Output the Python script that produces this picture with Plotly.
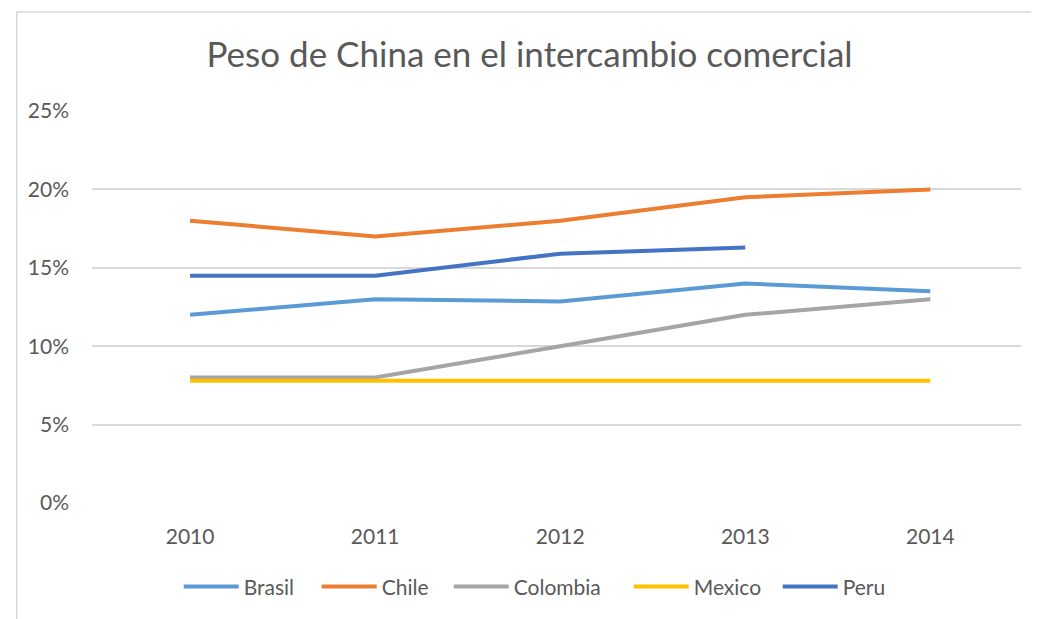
import plotly.graph_objects as go

years = ["2010", "2011", "2012", "2013", "2014"]
brasil = [12.0, 13.0, 12.85, 14.0, 13.5]
chile = [18.0, 17.0, 18.0, 19.5, 20.0]
colombia = [8.0, 8.0, 10.0, 12.0, 13.0]
mexico = [7.8, 7.8, 7.8, 7.8, 7.8]
peru = [14.5, 14.5, 15.9, 16.3, None]

series = [
    ("Brasil", brasil, "#5B9BD5"),
    ("Chile", chile, "#ED7D31"),
    ("Colombia", colombia, "#A5A5A5"),
    ("Mexico", mexico, "#FFC000"),
    ("Peru", peru, "#4472C4"),
]
# legend entry widths so the spacing matches the original
legend_w = {"Brasil": 68, "Chile": 62, "Colombia": 110, "Mexico": 79, "Peru": 55}

FONT = "Lato, sans-serif"
GREY = "#595959"

fig = go.Figure()
for name, vals, color in series:
    fig.add_trace(go.Scatter(
        x=years, y=[v / 100 if v is not None else None for v in vals],
        name=name, mode="lines",
        line=dict(color=color, width=4),
        legendwidth=legend_w[name],
    ))

fig.update_layout(
    width=1039, height=619,
    margin=dict(l=84, r=26, t=103, b=124),
    paper_bgcolor="white", plot_bgcolor="white",
    font=dict(family=FONT, color=GREY, size=21),
    title=dict(text="Peso de China en el intercambio comercial",
               x=0.502, xanchor="center", y=0.924, yanchor="middle",
               font=dict(size=35, color=GREY, family=FONT)),
    xaxis=dict(type="category", range=[-0.53, 4.49], showgrid=False,
               showline=False, ticks="", ticklabelstandoff=19,
               tickfont=dict(size=21)),
    yaxis=dict(range=[0, 0.25], dtick=0.05, tickformat=".0%",
               gridcolor="#D9D9D9", gridwidth=1.5, zeroline=False,
               ticks="", ticklabelstandoff=22, tickfont=dict(size=21)),
    legend=dict(orientation="h", x=0.483, xanchor="center",
                y=-0.214, yanchor="middle", font=dict(size=21),
                itemwidth=55, tracegroupgap=0),
    showlegend=True,
)

# chart frame (left and top edges visible in the reference)
fig.add_shape(type="line", xref="paper", yref="paper",
              x0=-0.081, x1=-0.081, y0=-0.35, y1=1.2526,
              line=dict(color="#D9D9D9", width=1.5))
fig.add_shape(type="line", xref="paper", yref="paper",
              x0=-0.081, x1=1.06, y0=1.2526, y1=1.2526,
              line=dict(color="#D9D9D9", width=1.5))

fig.write_html("out.html")
